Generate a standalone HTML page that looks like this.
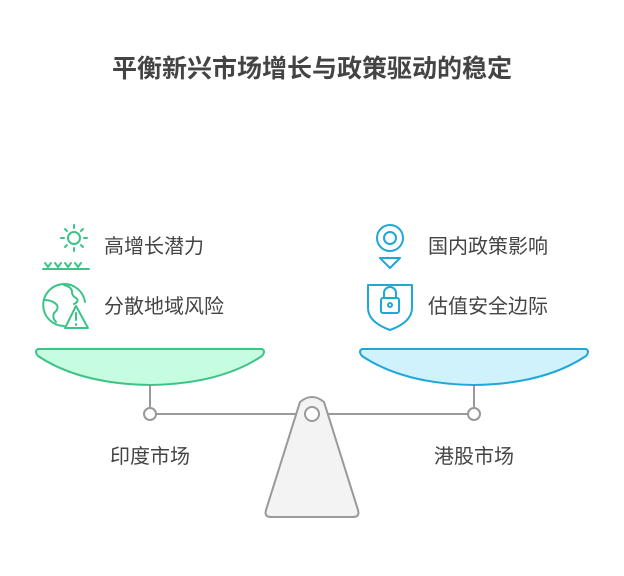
<!DOCTYPE html>
<html><head><meta charset="utf-8"><style>
body{margin:0;background:#fff;}
svg{display:block;font-family:"Liberation Sans","Noto Sans CJK SC",sans-serif;}
</style></head><body>
<svg width="624" height="576" viewBox="0 0 624 576">
<text x="312" y="77" text-anchor="middle" font-size="25" font-weight="bold" fill="#444">平衡新兴市场增长与政策驱动的稳定</text>
<!-- beam -->
<line x1="150" y1="414" x2="474" y2="414" stroke="#999" stroke-width="2"/>
<line x1="150" y1="384" x2="150" y2="408" stroke="#999" stroke-width="2"/>
<line x1="474" y1="384" x2="474" y2="408" stroke="#999" stroke-width="2"/>
<circle cx="150" cy="414" r="6" fill="#fff" stroke="#999" stroke-width="2"/>
<circle cx="474" cy="414" r="6" fill="#fff" stroke="#999" stroke-width="2"/>
<!-- base -->
<path d="M300 402 Q312 392 324 402 L358 510 Q360 517 353 517 L271 517 Q264 517 266 510 Z" fill="#f3f3f3" stroke="#999" stroke-width="2"/>
<circle cx="312" cy="414" r="7" fill="#fff" stroke="#999" stroke-width="2"/>
<!-- bowls -->
<path d="M38 349 L262 349 Q266 351 262 356 Q220 384 150 385 Q80 384 38 356 Q34 351 38 349 Z" fill="#c6fce0" stroke="#3cc487" stroke-width="2"/>
<path d="M362 349 L586 349 Q590 351 586 356 Q544 384 474 385 Q404 384 362 356 Q358 351 362 349 Z" fill="#d0f2fc" stroke="#1ea8d8" stroke-width="2"/>
<text x="150" y="463" text-anchor="middle" font-size="20" fill="#444">印度市场</text>
<text x="474" y="463" text-anchor="middle" font-size="20" fill="#444">港股市场</text>
<!-- left icons -->
<g stroke="#3cc487" stroke-width="2" fill="none" stroke-linecap="round">
<circle cx="74" cy="238" r="6"/>
<line x1="74" y1="225" x2="74" y2="228"/><line x1="74" y1="248" x2="74" y2="251"/>
<line x1="61" y1="238" x2="64" y2="238"/><line x1="84" y1="238" x2="87" y2="238"/>
<line x1="65" y1="229" x2="67" y2="231"/><line x1="81" y1="245" x2="83" y2="247"/>
<line x1="83" y1="229" x2="81" y2="231"/><line x1="65" y1="247" x2="67" y2="245"/>
<line x1="43" y1="269" x2="89" y2="269"/>
<path d="M45 263 l3 4 l3 -4 M55 263 l3 4 l3 -4 M65 263 l3 4 l3 -4 M75 263 l3 4 l3 -4"/>
<path d="M85 302 A21 21 0 1 0 64 326"/>
<path d="M64 285 Q72 287 72 292 Q72 296 76 298 Q80 301 74 304"/>
<path d="M44 300 Q52 300 56 304 Q60 308 54 313 Q52 318 56 322"/>
<path d="M76 306 L65 328 L88 328 Z" stroke-linejoin="round"/>
<line x1="76" y1="313" x2="76" y2="320"/><line x1="76" y1="324" x2="76" y2="325"/>
</g>
<text x="104" y="253" font-size="20" fill="#444">高增长潜力</text>
<text x="104" y="313" font-size="20" fill="#444">分散地域风险</text>
<!-- right icons -->
<g stroke="#1ea8d8" stroke-width="2" fill="none" stroke-linejoin="round">
<circle cx="390" cy="238" r="13"/><circle cx="390" cy="238" r="6"/>
<path d="M380 258 L400 258 L390 268 Z"/>
<path d="M368 285 L412 285 L412 308 Q412 322 390 330 Q368 322 368 308 Z"/>
<rect x="381" y="298" width="18" height="15" rx="2"/>
<path d="M384 298 V293 A6 6 0 0 1 396 293 V298"/>
<circle cx="390" cy="305" r="2"/>
</g>
<text x="428" y="253" font-size="20" fill="#444">国内政策影响</text>
<text x="428" y="313" font-size="20" fill="#444">估值安全边际</text>
</svg>
</body></html>
